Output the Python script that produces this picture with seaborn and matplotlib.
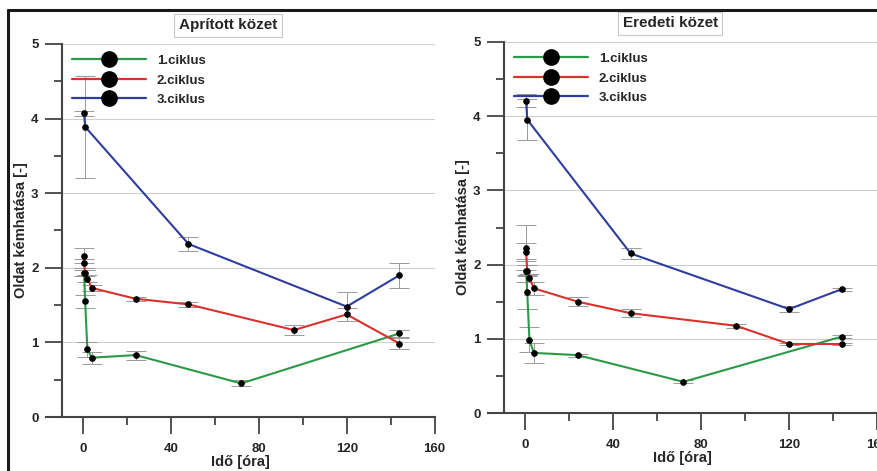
import numpy as np
import pandas as pd
import matplotlib
matplotlib.use("Agg")
import matplotlib.pyplot as plt
from matplotlib.lines import Line2D
from matplotlib.ticker import MultipleLocator
import seaborn as sns

sns.set_theme(style="white")
plt.rcParams['font.family'] = ['Liberation Sans', 'DejaVu Sans']
plt.rcParams['font.weight'] = 'bold'

series_names = ["1.ciklus", "2.ciklus", "3.ciklus"]
colors = ["#2a9a48", "#d9312b", "#2e3d9e"]
panel_titles = ["Aprított közet", "Eredeti közet"]
x_label = "Idő [óra]"
y_label = "Oldat kémhatása [-]"
x_ticks = [0, 40, 80, 120, 160]
y_ticks = [0, 1, 2, 3, 4, 5]

# --- Aprított közet ---
a_t1 = [0.5, 1, 2, 4, 24, 72, 144]
a_v1 = [1.93, 1.55, 0.91, 0.795, 0.83, 0.45, 1.12]
a_e1 = [0.04, 0.09, 0.10, 0.08, 0.06, 0.04, 0.05]
a_t2 = [0.25, 0.5, 1, 2, 4, 24, 48, 96, 120, 144]
a_v2 = [2.16, 2.06, 1.93, 1.855, 1.73, 1.585, 1.51, 1.165, 1.375, 0.985]
a_e2 = [0.10, 0.06, 0.04, 0.05, 0.04, 0.03, 0.03, 0.07, 0.09, 0.07]
a_t3 = [0.5, 1, 48, 120, 144]
a_v3 = [4.07, 3.89, 2.32, 1.48, 1.90]
a_e3 = [0.03, 0.68, 0.09, 0.19, 0.17]

# --- Eredeti közet ---
e_t1 = [0.5, 1, 2, 4, 24, 72, 144]
e_v1 = [1.92, 1.63, 0.99, 0.81, 0.78, 0.42, 1.03]
e_e1 = [0.15, 0.23, 0.17, 0.14, 0.02, 0.02, 0.02]
e_t2 = [0.25, 0.5, 1, 2, 4, 24, 48, 96, 120, 144]
e_v2 = [2.23, 2.17, 1.92, 1.82, 1.68, 1.50, 1.345, 1.175, 0.93, 0.93]
e_e2 = [0.30, 0.12, 0.08, 0.05, 0.09, 0.06, 0.05, 0.03, 0.02, 0.02]
e_t3 = [0.5, 1, 48, 120, 144]
e_v3 = [4.21, 3.955, 2.15, 1.40, 1.67]
e_e3 = [0.09, 0.28, 0.07, 0.04, 0.02]

panels = [
    [(a_t1, a_v1, a_e1), (a_t2, a_v2, a_e2), (a_t3, a_v3, a_e3)],
    [(e_t1, e_v1, e_e1), (e_t2, e_v2, e_e2), (e_t3, e_v3, e_e3)],
]

fig = plt.figure(figsize=(8.77, 4.71), dpi=100)
W, H = 877, 471
axes_px = [(45.6, 44, 389, 373), (487.6, 42, 389.5, 371)]

for p, (panel, title) in enumerate(zip(panels, panel_titles)):
    lx, ty, w, h = axes_px[p]
    ax = fig.add_axes([lx / W, 1 - (ty + h) / H, w / W, h / H])
    ax.set_facecolor("none")
    ax.set_xlim(-17, 160)
    ax.set_ylim(0, 5)
    # gridlines
    ax.hlines(y_ticks[1:], -9.5, 160, colors="#cfcfcf", lw=0.8, zorder=0.5)
    for (t, v, e), name, c in zip(panel, series_names, colors):
        ax.errorbar(t, v, yerr=e, fmt="none", ecolor="#9a9a9a", elinewidth=0.7,
                    capsize=7, capthick=0.7, zorder=1)
        df = pd.DataFrame({"t": t, "v": v})
        sns.lineplot(data=df, x="t", y="v", ax=ax, sort=False, color=c, lw=1.5,
                     marker="o", markersize=4, markerfacecolor="black",
                     markeredgecolor="black", zorder=2)
    for s in ["top", "right"]:
        ax.spines[s].set_visible(False)
    ax.spines["left"].set_position(("data", -9.5))
    for s in ["left", "bottom"]:
        ax.spines[s].set_color("#444444")
        ax.spines[s].set_linewidth(1.5)
    ax.set_xticks(x_ticks)
    ax.set_yticks(y_ticks)
    ax.xaxis.set_minor_locator(MultipleLocator(20))
    ax.yaxis.set_minor_locator(MultipleLocator(0.5))
    ax.tick_params(axis="both", which="major", length=12, width=1.3, color="#444444",
                   direction="out", labelsize=9.5)
    ax.tick_params(axis="x", which="major", pad=7)
    ax.tick_params(axis="y", which="major", pad=5)
    ax.tick_params(axis="both", which="minor", length=6, width=1.3, color="#444444",
                   direction="out")
    ax.tick_params(left=True, bottom=True, which="both")
    for lab in ax.get_xticklabels() + ax.get_yticklabels():
        lab.set_fontweight("bold")
    ax.set_xlabel(x_label, fontsize=10.5, fontweight="bold", labelpad=0)
    ax.set_ylabel(y_label, fontsize=10.5, fontweight="bold", labelpad=2)
    ax.text(66, 5.25, title, ha="center", va="center", fontsize=11, fontweight="bold",
            clip_on=False,
            bbox=dict(boxstyle="square,pad=0.3", facecolor="white", edgecolor="#c8c8c8", lw=0.8))
    handles = [Line2D([0], [0], color=c, lw=1.6, marker="o", markersize=11,
                      markerfacecolor="black", markeredgecolor="black") for c in colors]
    ax.legend(handles, series_names, loc="upper left", bbox_to_anchor=(0.055, 0.985),
              frameon=False, handlelength=5.6, handletextpad=0.8, labelspacing=0.55,
              prop=dict(size=9.5, weight="bold"), borderaxespad=0)

# outer frame lines (top and left)
fig.add_artist(Line2D([8 / W, 1], [1 - 10 / H, 1 - 10 / H], color="#1a1a1a", lw=2.2))
fig.add_artist(Line2D([8 / W, 8 / W], [0, 1 - 10 / H], color="#1a1a1a", lw=2.2))

fig.savefig("out.png", dpi=100)
